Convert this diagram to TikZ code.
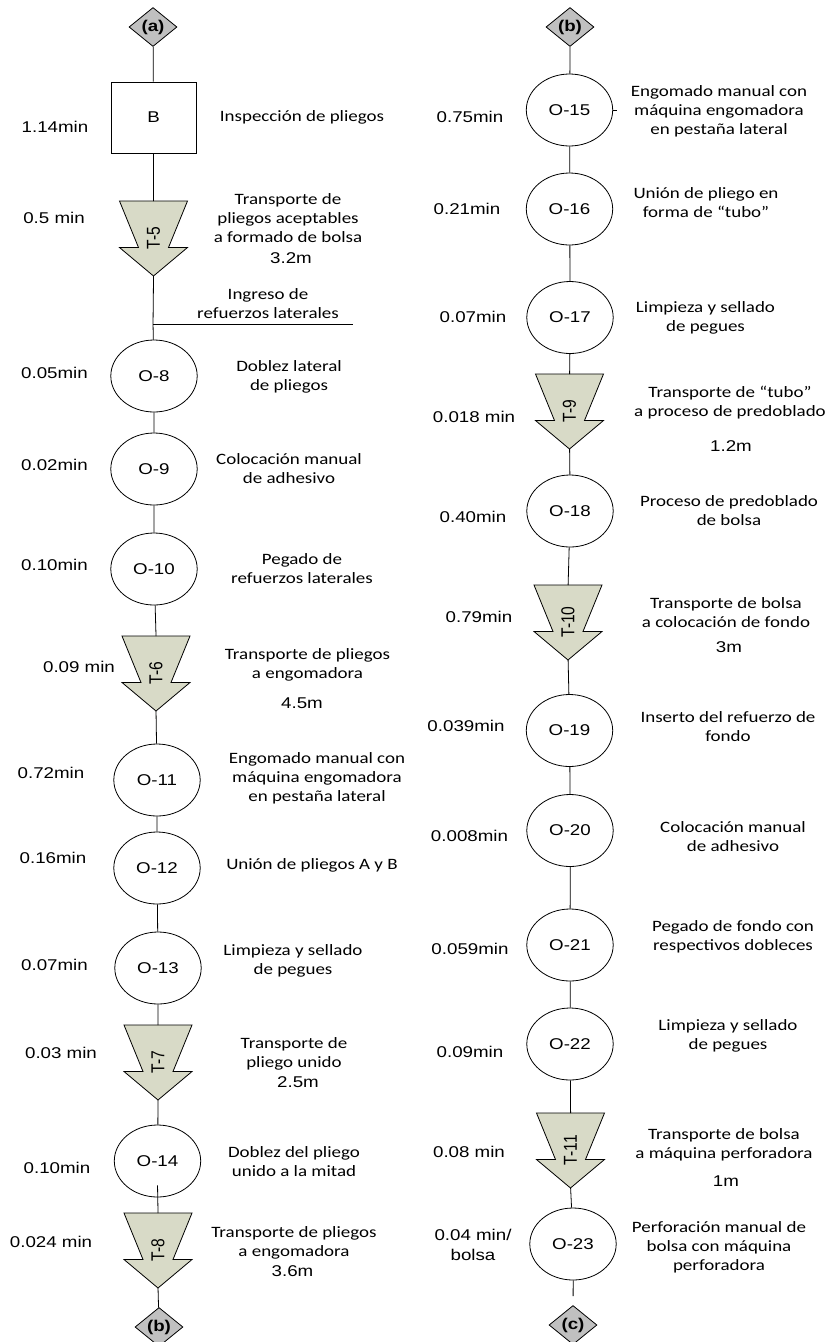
\documentclass[tikz,border=0pt]{standalone}
\usepackage{fontspec}
\setmainfont{Liberation Sans}
\newfontfamily\arialfam{Liberation Sans}
\newfontfamily\calfam{Carlito}
\usetikzlibrary{shapes.geometric}

\definecolor{transfill}{RGB}{216,218,199}
\definecolor{connfill}{RGB}{192,192,192}

% fonts: symbols/times in Arial metrics, descriptions in Calibri metrics
\newcommand\lblfont{\arialfam\fontsize{15.6}{18}\selectfont}
\newcommand\timefont{\arialfam\fontsize{15.6}{20}\selectfont}
\newcommand\descfont{\calfam\fontsize{15.8}{19}\selectfont}

% transport symbol: tapered arrow pointing down
% #1 name, #2 centre x, #3 top y, #4 label
\newcommand\tarrow[4]{%
  \path[transp] ({#2-34},{#3}) -- ({#2+34},{#3}) -- ({#2+15},{#3+46.5})
     -- ({#2+34},{#3+46.5}) -- ({#2},{#3+75}) -- ({#2-34},{#3+46.5})
     -- ({#2-15},{#3+46.5}) -- cycle;
  \coordinate (#1n) at ({#2},{#3});
  \coordinate (#1s) at ({#2},{#3+75});
  \node[tlabel] (#1) at ({#2},{#3+37}) {#4};}

\begin{document}
\begin{tikzpicture}[x=0.833333pt, y=-1pt, xscale=1.2,
  every node/.append style={transform shape},
  op/.style={circle, draw, line width=0.8pt, minimum size=72pt, inner sep=0pt, font=\lblfont},
  insp/.style={rectangle, draw, line width=0.8pt, minimum width=70.8pt, minimum height=71pt, inner sep=0pt, font=\lblfont},
  conn/.style={diamond, draw, line width=0.8pt, fill=connfill, minimum width=40pt, minimum height=39pt, inner sep=0pt, font=\lblfont\bfseries},
  time/.style={font=\timefont, align=center, inner sep=0pt},
  desc/.style={font=\descfont, align=center, inner sep=0pt},
  transp/.style={draw, line width=0.8pt, fill=transfill, line join=miter},
  tlabel/.style={rotate=90, font=\lblfont, inner sep=0pt},
  flow/.style={draw, line width=0.8pt}]

\useasboundingbox (0,0) rectangle (839,1342);

% ---------------- left column ----------------
\node[conn] (da) at (153,27) {(a)};
\node[insp] (B) at (153.5,117.5) {B};
\tarrow{T5}{153.5}{201}{T-5}
\coordinate (ing) at (153,324);
\coordinate (ingEnd) at (353,324);
\node[op] (O8) at (154,376) {O-8};
\node[op] (O9) at (154,469) {O-9};
\node[op] (O10) at (154,569) {O-10};
\tarrow{T6}{156}{636}{T-6}
\node[op] (O11) at (157,780) {O-11};
\node[op] (O12) at (157,868) {O-12};
\node[op] (O13) at (158,968) {O-13};
\tarrow{T7}{158}{1025}{T-7}
\node[op] (O14) at (157.5,1161) {O-14};
\tarrow{T8}{158}{1213}{T-8}
\node[conn] (dbl) at (159,1327) {(b)};

\draw[flow] (da) -- (B);
\draw[flow] (B) -- (T5n);
\draw[flow] (T5s) -- (ing) -- (O8);
\draw[flow] (ing) -- (ingEnd);
\draw[flow] (O8) -- (O9);
\draw[flow] (O9) -- (O10);
\draw[flow] (O10) -- (T6n);
\draw[flow] (T6s) -- (O11);
\draw[flow] (O11) -- (O12);
\draw[flow] (O12) -- (O13);
\draw[flow] (O13) -- (T7n);
\draw[flow] (T7s) -- (O14);
\draw[flow] ([yshift=12pt]O14.south) -- (T8n);
\draw[flow] (T8s) -- (dbl);

% times
\node[time] (tB) at (55,127) {1.14min};
\node[time] (tT5) at (54,218) {0.5 min};
\node[time] (tO8) at (54.5,373) {0.05min};
\node[time] (tO9) at (54.5,465) {0.02min};
\node[time] (tO10) at (54.5,565) {0.10min};
\node[time] (tT6) at (79,667) {0.09 min};
\node[time] (tO11) at (51,773) {0.72min};
\node[time] (tO12) at (53,858) {0.16min};
\node[time] (tO13) at (54.5,965) {0.07min};
\node[time] (tT7) at (61,1053) {0.03 min};
\node[time] (tO14) at (57,1168) {0.10min};
\node[time] (tT8) at (51,1242) {0.024 min};

% descriptions
\node[desc] (dB) at (302,117) {Inspección de pliegos};
\node[desc] (dT5) at (288,218) {Transporte de\\pliegos aceptables\\a formado de bolsa};
\node[time] (mT5) at (291,258) {3.2m};
\node[desc] (dIng) at (268,304) {Ingreso de\\refuerzos laterales};
\node[desc] (dO8) at (289,376.5) {Doblez lateral\\de pliegos};
\node[desc] (dO9) at (289,468.5) {Colocación manual\\de adhesivo};
\node[desc] (dO10) at (302,569) {Pegado de\\refuerzos laterales};
\node[desc] (dT6) at (307.5,665) {Transporte de pliegos\\a engomadora};
\node[time] (mT6) at (302,703) {4.5m};
\node[desc] (dO11) at (317,778) {Engomado manual con\\máquina engomadora\\en pestaña lateral};
\node[desc] (dO12) at (312,865) {Unión de pliegos A y B};
\node[desc] (dO13) at (293,960.5) {Limpieza y sellado\\de pegues};
\node[desc] (dT7) at (294,1054) {Transporte de\\pliego unido};
\node[time] (mT7) at (298,1082) {2.5m};
\node[desc] (dO14) at (294,1161.5) {Doblez del pliego\\unido a la mitad};
\node[desc] (dT8) at (294,1242.5) {Transporte de pliegos\\a engomadora};
\node[time] (mT8) at (292.5,1271) {3.6m};

% ---------------- right column ----------------
\node[conn] (dbr) at (570,27) {(b)};
\node[op] (O15) at (569.5,110) {O-15};
\coordinate (O15tick) at (617,110);
\node[op] (O16) at (569.5,209) {O-16};
\node[op] (O17) at (570,317.5) {O-17};
\tarrow{T9}{569.5}{374}{T-9}
\node[op] (O18) at (570,511) {O-18};
\tarrow{T10}{568}{585}{T-10}
\node[op] (O19) at (569.5,730.5) {O-19};
\node[op] (O20) at (570,830.5) {O-20};
\node[op] (O21) at (570,945) {O-21};
\node[op] (O22) at (570,1044) {O-22};
\tarrow{T11}{570.5}{1113}{T-11}
\node[op] (O23) at (573,1244) {O-23};
\coordinate (O23tail) at (573,1296);
\node[conn] (dc) at (573,1325) {(c)};

\draw[flow] (dbr) -- (O15);
\draw[flow] (O15.east) -- (O15tick);
\draw[flow] (O15) -- (O16);
\draw[flow] (O16) -- (O17);
\draw[flow] (O17) -- (T9n);
\draw[flow] (T9s) -- (O18);
\draw[flow] (O18) -- (T10n);
\draw[flow] (T10s) -- (O19);
\draw[flow] (O19) -- (O20);
\draw[flow] (O20) -- (O21);
\draw[flow] (O21) -- (O22);
\draw[flow] (O22) -- (T11n);
\draw[flow] (T11s) -- (O23);
\draw[flow] (O23) -- (O23tail);

% times
\node[time] (tO15) at (470,117) {0.75min};
\node[time] (tO16) at (467,209) {0.21min};
\node[time] (tO17) at (473,317) {0.07min};
\node[time] (tT9) at (474,417) {0.018 min};
\node[time] (tO18) at (473,517) {0.40min};
\node[time] (tT10) at (479,617) {0.79min};
\node[time] (tO19) at (466,726) {0.039min};
\node[time] (tO20) at (469.5,836) {0.008min};
\node[time] (tO21) at (470,949) {0.059min};
\node[time] (tO22) at (470,1052) {0.09min};
\node[time] (tT11) at (469,1152) {0.08 min};
\node[time] (tO23) at (473,1245) {0.04 min/\\bolsa};

% descriptions
\node[desc] (dO15) at (719,111) {Engomado manual con\\máquina engomadora\\en pestaña lateral};
\node[desc] (dO16) at (706,202.5) {Unión de pliego en\\forma de “tubo”};
\node[desc] (dO17) at (705.5,317.5) {Limpieza y sellado\\de pegues};
\node[desc] (dT9) at (730,403) {Transporte de “tubo”\\a proceso de predoblado};
\node[time] (mT9) at (731,446) {1.2m};
\node[desc] (dO18) at (729,510.5) {Proceso de predoblado\\de bolsa};
\node[desc] (dT10) at (726,612.5) {Transporte de bolsa\\a colocación de fondo};
\node[time] (mT10) at (729,647) {3m};
\node[desc] (dO19) at (728,726.5) {Inserto del refuerzo de\\fondo};
\node[desc] (dO20) at (733,836.5) {Colocación manual\\de adhesivo};
\node[desc] (dO21) at (733,937) {Pegado de fondo con\\respectivos dobleces};
\node[desc] (dO22) at (728,1036) {Limpieza y sellado\\de pegues};
\node[desc] (dT11) at (724,1145) {Transporte de bolsa\\a máquina perforadora};
\node[time] (mT11) at (726,1181) {1m};
\node[desc] (dO23) at (719,1247) {Perforación manual de\\bolsa con máquina\\perforadora};

\end{tikzpicture}
\end{document}
